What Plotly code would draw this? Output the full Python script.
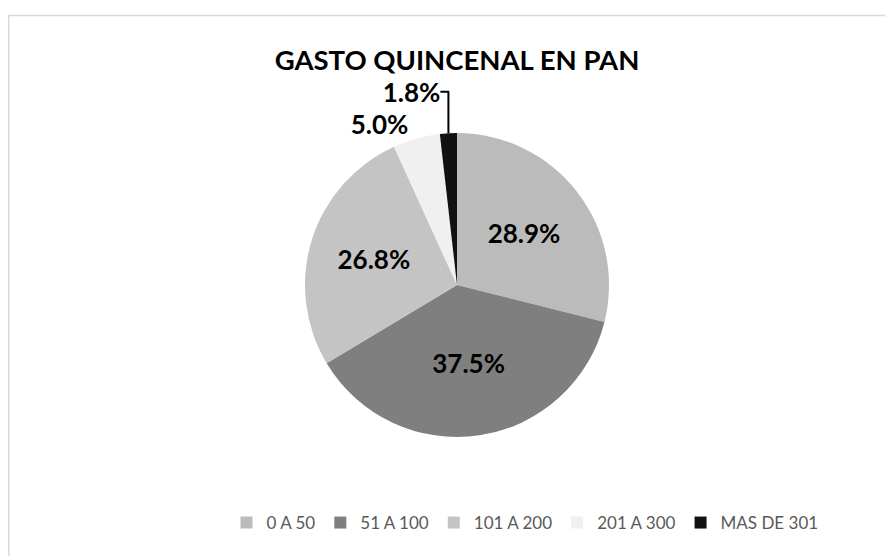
import plotly.graph_objects as go

W, H = 893, 556
OFF = 8  # page body margin offset

categories = ["0 A 50", "51 A 100", "101 A 200", "201 A 300", "MAS DE 301"]
values = [28.9, 37.5, 26.8, 5.0, 1.8]
colors = ["#bbbbbb", "#7f7f7f", "#c4c4c4", "#f0f0f0", "#111111"]
text_positions = ["inside", "inside", "inside", "outside", "outside"]

FONT = "Lato, Carlito, Calibri, 'Open Sans', sans-serif"


def px_x(p):
    return (p - OFF) / W


def px_y(p):
    return 1 - (p - OFF) / H


cx, cy, r = 457, 285, 152

fig = go.Figure(
    go.Pie(
        labels=categories,
        values=values,
        sort=False,
        direction="clockwise",
        rotation=0,
        marker=dict(colors=colors, line=dict(width=0)),
        texttemplate="%{value:.1f}%",
        textposition=text_positions,
        textfont=dict(family=FONT, size=26, color="#000000", weight="bold"),
        insidetextorientation="horizontal",
        domain=dict(x=[px_x(cx - r), px_x(cx + r)], y=[px_y(cy + r), px_y(cy - r)]),
        showlegend=True,
        hoverinfo="label+value",
    )
)

fig.update_layout(
    width=W,
    height=H,
    margin=dict(l=0, r=0, t=0, b=0),
    paper_bgcolor="white",
    plot_bgcolor="white",
    font=dict(family=FONT),
    title=dict(
        text="<b>GASTO QUINCENAL EN PAN</b>",
        x=px_x(457),
        xanchor="center",
        y=px_y(60),
        yanchor="middle",
        font=dict(family=FONT, size=27.5, color="#000000"),
    ),
    legend=dict(
        orientation="h",
        x=px_x(525),
        xanchor="center",
        y=px_y(523),
        yanchor="middle",
        font=dict(family=FONT, size=17, color="#595959"),
        itemwidth=30,
        traceorder="normal",
    ),
    shapes=[
        dict(
            type="rect",
            xref="paper",
            yref="paper",
            x0=0.75 / W,
            x1=1.05,
            y0=-0.05,
            y1=px_y(15.5),
            line=dict(color="#d9d9d9", width=1.5),
            fillcolor="rgba(0,0,0,0)",
            layer="below",
        )
    ],
)

fig.write_html("out.html")
